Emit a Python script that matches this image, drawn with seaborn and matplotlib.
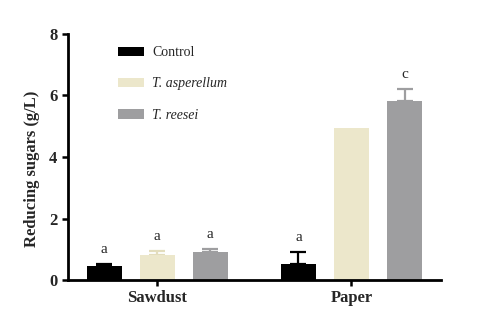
import seaborn as sns
import pandas as pd
import numpy as np
from matplotlib import pyplot as plt

# values
substrates = ["Sawdust", "Paper"]
treatments = ["Control", "T. asperellum", "T. reesei"]
control = [0.45, 0.52]
asperellum = [0.81, 4.94]
reesei = [0.91, 5.82]
control_err = [0.07, 0.39]
asperellum_err = [0.13, 0.0]
reesei_err = [0.09, 0.39]
letters_control = ["a", "a"]
letters_asperellum = ["a", ""]
letters_reesei = ["a", "c"]

colors = ["#000000", "#ECE7CB", "#9E9EA0"]

rows = []
for t, vals in zip(treatments, [control, asperellum, reesei]):
    for s, v in zip(substrates, vals):
        rows.append({"substrate": s, "treatment": t, "value": v})
df = pd.DataFrame(rows)

sns.set_style("ticks")
plt.rcParams["font.family"] = ["Liberation Serif", "DejaVu Serif"]

fig = plt.figure(figsize=(4.92, 3.26), dpi=100)
ax = fig.add_axes([0.138, 0.141, 0.758, 0.755])

sns.barplot(data=df, x="substrate", y="value", hue="treatment",
            order=substrates, hue_order=treatments, palette=colors,
            width=0.82, gap=0.34, errorbar=None, saturation=1,
            linewidth=0, ax=ax)

# one-sided error bars (drawn behind the bars) and significance letters
errs = [control_err, asperellum_err, reesei_err]
letters = [letters_control, letters_asperellum, letters_reesei]
for cont, vals, err, lab, c in zip(ax.containers, [control, asperellum, reesei], errs, letters, colors):
    xs = [p.get_x() + p.get_width() / 2 for p in cont.patches]
    ecol = c if c != "#ECE7CB" else "#E3DDBD"
    for x, v, e, l in zip(xs, vals, err, lab):
        if e > 0:
            ax.errorbar([x], [v], yerr=[[0], [e]], fmt="none", ecolor=ecol,
                        elinewidth=1.6, capsize=6, capthick=1.6, zorder=0.8)
        if l:
            ax.annotate(l, (x, v + e), xytext=(0, 6), textcoords="offset points",
                        ha="center", va="bottom", fontsize=11)

ax.set_ylim(0, 8)
ax.set_xlim(-0.46, 1.46)
ax.set_yticks([0, 2, 4, 6, 8])
ax.set_xlabel("")
ax.set_ylabel("Reducing sugars (g/L)", fontsize=12, fontweight="bold")
ax.yaxis.set_label_coords(-0.074, 0.45)
for tick in ax.get_yticklabels() + ax.get_xticklabels():
    tick.set_fontweight("bold")
    tick.set_fontsize(12)
ax.tick_params(axis="both", width=1.8, length=4, color="black")
for side in ["left", "bottom"]:
    ax.spines[side].set_linewidth(2)
    ax.spines[side].set_color("black")
sns.despine(ax=ax)

handles, _ = ax.get_legend_handles_labels()
leg = ax.legend(handles, treatments, loc="upper left", bbox_to_anchor=(0.1, 1.0),
                frameon=False, fontsize=10, handlelength=1.9, handleheight=0.7,
                labelspacing=1.3, handletextpad=0.6)
for txt in leg.get_texts()[1:]:
    txt.set_fontstyle("italic")

plt.savefig("out.png", dpi=100)
